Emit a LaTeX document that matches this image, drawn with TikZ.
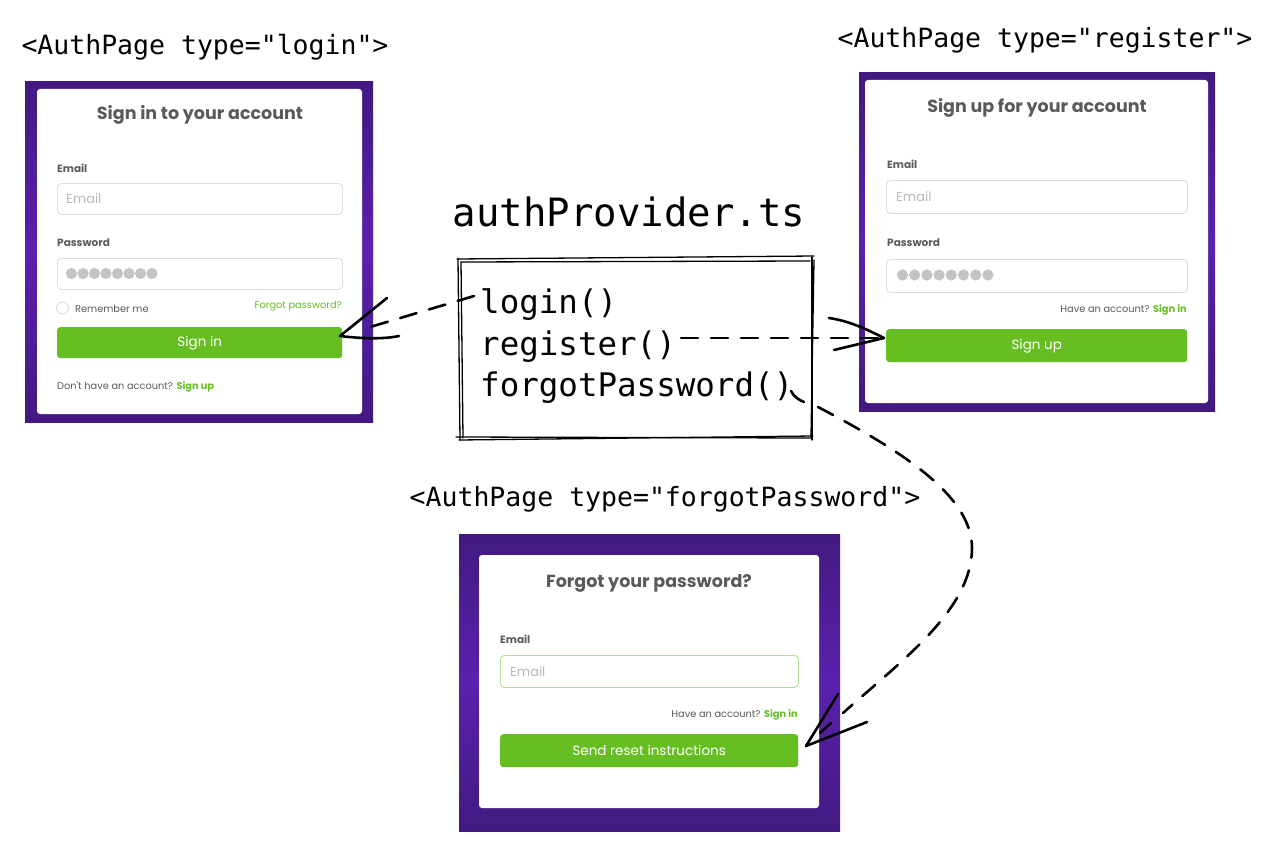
\documentclass[tikz,border=0pt]{standalone}
\usepackage{fontspec}
\newfontfamily\ui{Poppins}
\newfontfamily\code{DejaVu Sans Mono}
\usetikzlibrary{calc}
\definecolor{purpD}{HTML}{421980}
\definecolor{purpL}{HTML}{5A21AE}
\definecolor{grn}{HTML}{67BE23}
\definecolor{txt}{HTML}{5A5A5A}
\definecolor{brd}{HTML}{DCDCDC}
\definecolor{ph}{HTML}{B8B8B8}
\definecolor{dotc}{HTML}{C4C4C4}
\definecolor{lgrn}{HTML}{B2DF98}
\begin{document}
\begin{tikzpicture}[x=1pt,y=-1pt,
  frame/.style={top color=purpD, bottom color=purpD, middle color=purpL},
  card/.style={fill=white, rounded corners=3pt},
  field/.style={draw=brd, line width=0.9pt, fill=white, rounded corners=4pt, inner sep=0pt},
  btn/.style={fill=grn, rounded corners=3pt, text=white, inner sep=0pt, font=\ui\fontsize{13.5}{15}\selectfont},
  ttl/.style={text=txt, inner sep=0pt, font=\ui\bfseries\fontsize{17.5}{20}\selectfont},
  lbl/.style={text=txt, inner sep=0pt, anchor=west, font=\ui\bfseries\fontsize{10.5}{12}\selectfont},
  phd/.style={text=ph, inner sep=0pt, anchor=west, font=\ui\fontsize{13}{15}\selectfont},
  small/.style={text=txt, inner sep=0pt, font=\ui\fontsize{9.8}{11}\selectfont},
  tag/.style={inner sep=0pt, anchor=base, font=\code\fontsize{26.5}{30}\selectfont},
  fn/.style={inner sep=0pt, anchor=base west, font=\code\fontsize{32.5}{36}\selectfont},
  sk/.style={line width=1.3pt, line cap=round},
  pen/.style={line width=2.6pt, line cap=round},
  dsh/.style={pen, dash pattern=on 17pt off 13pt}
]
\useasboundingbox (0,0) rectangle (1278,851);
\fill[white] (0,0) rectangle (1278,851);

% ---------------- labels
\node[tag] (tagLogin) at (205,55) {<AuthPage type="login">};
\node[tag] (tagReg) at (1045,48) {<AuthPage type="register">};
\node[tag] (tagForgot) at (665,506) {<AuthPage type="forgotPassword">};
\node[inner sep=0pt, anchor=base, font=\code\fontsize{39}{44}\selectfont] (prov) at (629,226) {authProvider.ts};

% ---------------- login panel
\shade[frame] (25,82) rectangle (373,422);
\fill[card] (37,89) rectangle (362,414);
\node[ttl] (t1) at (200,115) {Sign in to your account};
\node[lbl] (e1l) at (57,168) {Email};
\node[field, minimum width=285pt, minimum height=31pt, anchor=north west] (e1) at (57,183) {};
\node[phd] (e1p) at ($(e1.west)+(9,0)$) {Email};
\node[lbl] (p1l) at (57,243) {Password};
\node[field, minimum width=285pt, minimum height=31pt, anchor=north west] (p1) at (57,258) {};
\foreach \i in {0,...,7} \fill[dotc] (71.5+11.5*\i,273.5) circle (5.6);
\draw[brd, line width=0.9pt, fill=white] (62.5,308) circle (6);
\node[small, anchor=west] (rem) at (75,308.5) {Remember me};
\node[small, anchor=east, text=grn] (fgt) at (342,306.5) {Forgot password?};
\node[btn, minimum width=285pt, minimum height=31pt, anchor=north west] (signin) at (57,327) {};
\node[btn, fill=none] at (signin.center) {Sign in};
\node[small, anchor=west] (su1) at (57,387) {Don't have an account? \textcolor{grn}{\bfseries Sign up}};

% ---------------- register panel
\shade[frame] (859,73) rectangle (1215,411);
\fill[card] (865,80) rectangle (1208,403);
\node[ttl] (t2) at (1037,108) {Sign up for your account};
\node[lbl] (e2l) at (887,164) {Email};
\node[field, minimum width=301pt, minimum height=33pt, anchor=north west] (e2) at (886,180) {};
\node[phd] (e2p) at ($(e2.west)+(10,0)$) {Email};
\node[lbl] (p2l) at (887,243) {Password};
\node[field, minimum width=301pt, minimum height=33pt, anchor=north west] (p2) at (886,259) {};
\foreach \i in {0,...,7} \fill[dotc] (902.5+12.2*\i,275) circle (5.6);
\node[small, anchor=east] (si2) at (1187,310) {Have an account? \textcolor{grn}{\bfseries Sign in}};
\node[btn, minimum width=301pt, minimum height=33pt, anchor=north west] (signup) at (886,329) {};
\node[btn, fill=none] at (signup.center) {Sign up};

% ---------------- forgot panel
\shade[frame] (459,534) rectangle (840,831);
\fill[card] (479,555) rectangle (819,808);
\node[ttl] (t3) at (649,583) {Forgot your password?};
\node[lbl] (e3l) at (500,639) {Email};
\node[field, draw=lgrn, minimum width=298pt, minimum height=32pt, anchor=north west] (e3) at (500,655) {};
\node[phd] (e3p) at ($(e3.west)+(10,0)$) {Email};
\node[small, anchor=east] (si3) at (798,715) {Have an account? \textcolor{grn}{\bfseries Sign in}};
\node[btn, minimum width=298pt, minimum height=33pt, anchor=north west] (reset) at (500,734) {};
\node[btn, fill=none] at (reset.center) {Send reset instructions};

% ---------------- provider box (sketchy)
\node[minimum width=355pt, minimum height=180pt, inner sep=0pt] (box) at (635,349) {};
\draw[sk] (457,259) -- (814,256);
\draw[sk] (461,262) -- (810,261);
\draw[sk] (456,437) -- (812,438);
\draw[sk] (459,440) -- (813,436);
\draw[sk] (458,258) -- (460,440);
\draw[sk] (461,262) -- (463,438);
\draw[sk] (812,257) -- (812,440);
\draw[sk] (814,260) -- (811,437);
\node[fn] (fLogin) at (480,313) {login()};
\node[fn] (fReg) at (480,355) {register()};
\node[fn] (fForgot) at (480,396) {forgotPassword()};

% ---------------- connectors
% login() -> Sign in
\coordinate (a1s) at (474,296);
\coordinate (a1t) at (340,336);
\draw[dsh] (a1s) -- ($(a1s)!0.84!(a1t)$);
\draw[pen] (387,298) -- (a1t);
\draw[pen] (a1t) .. controls (365,339) and (385,339) .. (399,336);

% register() -> Sign up
\coordinate (a2s) at (681,338);
\coordinate (a2t) at (884,338);
\draw[dsh] (a2s) -- (878,338);
\draw[pen] (829,318) .. controls (850,321) and (868,330) .. (a2t);
\draw[pen] (a2t) -- (834,350);

% forgotPassword() -> Send reset
\coordinate (a3s) at (818,407);
\coordinate (a3t) at (806,746);
\draw[pen] (791,391) .. controls (794,397) and (799,400) .. (804,402);
\draw[dsh] (a3s) .. controls (900,450) and (972,495) .. (972,548)
   .. controls (972,610) and (900,662) .. (843,713);
\draw[pen] (838,694) -- (a3t);
\draw[pen] (a3t) -- (867,722);
\draw[pen] (820,733) -- (831,723);
\end{tikzpicture}
\end{document}
